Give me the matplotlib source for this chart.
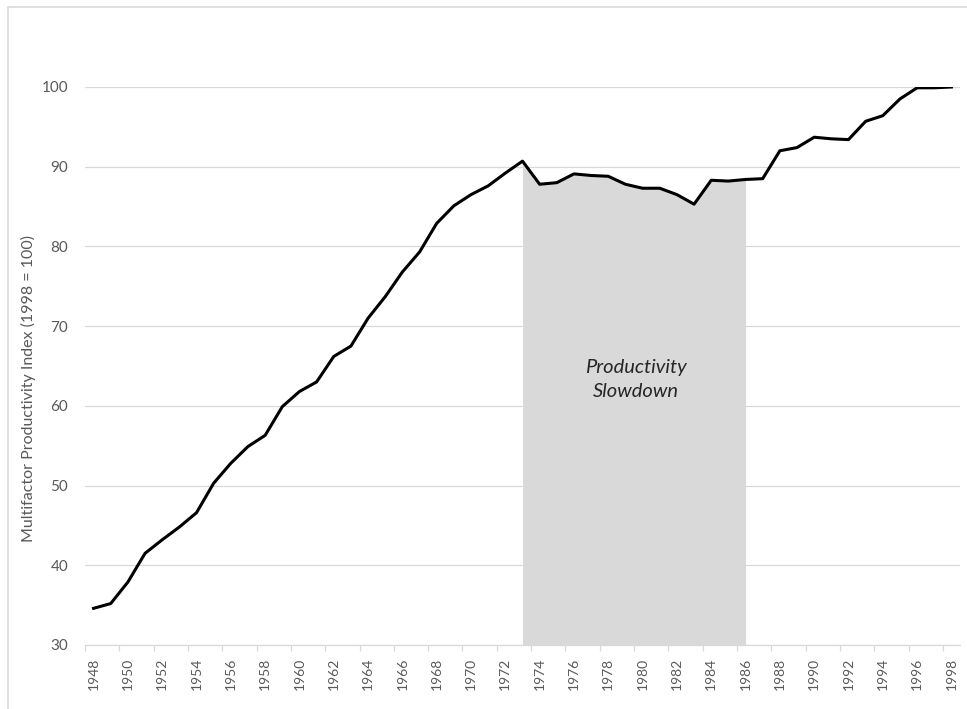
import matplotlib
matplotlib.use("Agg")
import matplotlib.pyplot as plt
from matplotlib.patches import Rectangle
import numpy as np

plt.rcParams['font.family'] = ['Lato', 'DejaVu Sans']

# Multifactor productivity index, 1948-1998 (1998 = 100)
years = list(range(1948, 1999))
mfp_index = [34.6, 35.2, 37.9, 41.5, 43.2, 44.8, 46.6, 50.3, 52.8, 54.9,
             56.3, 59.9, 61.8, 63.0, 66.2, 67.5, 71.0, 73.7, 76.8, 79.3,
             82.9, 85.1, 86.5, 87.6, 89.2, 90.7, 87.8, 88.0, 89.1, 88.9,
             88.8, 87.8, 87.3, 87.3, 86.5, 85.3, 88.3, 88.2, 88.4, 88.5,
             92.0, 92.4, 93.7, 93.5, 93.4, 95.7, 96.4, 98.5, 99.9, 99.9,
             100.0]
slowdown_start, slowdown_end = 1973, 1986
slowdown_label = "Productivity\nSlowdown"

grey_txt = '#595959'
grid_col = '#d9d9d9'

fig = plt.figure(figsize=(9.67, 7.09), dpi=100)
ax = fig.add_axes([85 / 967, 1 - 645 / 709, 875 / 967, 558 / 709])

x = np.arange(len(years))
ax.plot(x, mfp_index, color='black', linewidth=2.2, zorder=3, solid_joinstyle='round')

# shaded area under the curve for the slowdown years
i0 = years.index(slowdown_start)
i1 = years.index(slowdown_end)
ax.fill_between(x[i0:i1 + 1], 30, mfp_index[i0:i1 + 1], color='#d9d9d9', linewidth=0, zorder=1)
ax.text((i0 + i1) / 2 + 0.1, 63.3, slowdown_label, ha='center', va='center', fontsize=14.5,
        style='italic', color='#262626', linespacing=1.5, zorder=4)

ax.set_xlim(-0.5, len(years) - 0.5)
ax.set_ylim(30, 100)
ax.set_yticks(range(30, 101, 10))
ax.grid(axis='y', color=grid_col, linewidth=0.9, zorder=0.5)
ax.set_axisbelow(True)

ax.set_xticks(x[::2])
ax.set_xticklabels([str(y) for y in years[::2]], rotation=90)
ax.set_xticks(np.arange(-0.5, len(years) - 1, 2), minor=True)
ax.tick_params(axis='x', which='major', length=0, pad=9, labelsize=10, labelcolor=grey_txt)
ax.tick_params(axis='x', which='minor', length=4, width=0.9, color=grid_col)
ax.tick_params(axis='y', length=0, pad=12, labelsize=11, labelcolor=grey_txt)

for side in ['top', 'right', 'left']:
    ax.spines[side].set_visible(False)
ax.spines['bottom'].set_color(grid_col)
ax.spines['bottom'].set_linewidth(0.9)

ax.set_ylabel("Multifactor Productivity Index (1998 = 100)", fontsize=11.5, color=grey_txt)
ax.yaxis.set_label_coords(-0.056, (645 - 388) / 558)

# light chart border (top and left edges visible)
fig.patches.append(Rectangle((8 / 967, -0.05), 1.1, 1 - 7 / 709 + 0.05, transform=fig.transFigure,
                             fill=False, edgecolor='#d9d9d9', linewidth=1.2))

fig.savefig('out.png', dpi=100)
